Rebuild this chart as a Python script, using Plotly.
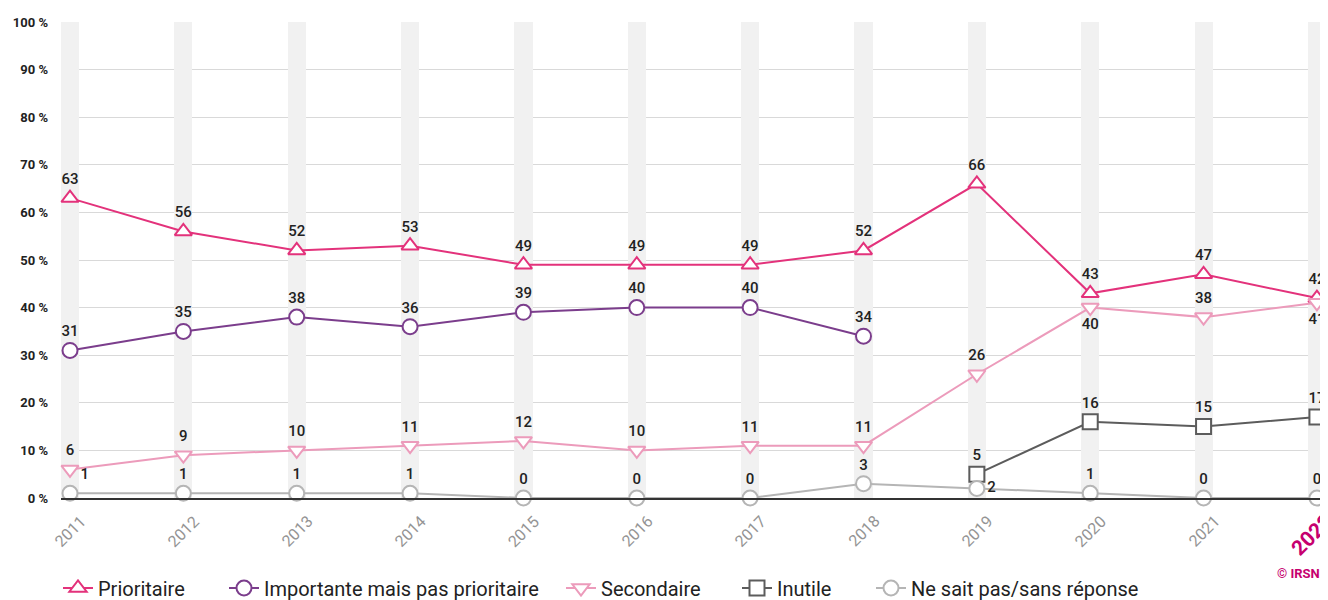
import plotly.graph_objects as go

years = [2011, 2012, 2013, 2014, 2015, 2016, 2017, 2018, 2019, 2020, 2021, 2022]
tick_labels = [str(y) for y in years]
band_height = [100] * len(years)

prioritaire = [63, 56, 52, 53, 49, 49, 49, 52, 66, 43, 47, 42]
importante = [31, 35, 38, 36, 39, 40, 40, 34, None, None, None, None]
secondaire = [6, 9, 10, 11, 12, 10, 11, 11, 26, 40, 38, 41]
inutile = [None, None, None, None, None, None, None, None, 5, 16, 15, 17]
nsp = [1, 1, 1, 1, 0, 0, 0, 3, 2, 1, 0, 0]

series_names = ["Prioritaire", "Importante mais pas prioritaire", "Secondaire",
                "Inutile", "Ne sait pas/sans réponse"]

# the page body has an 8px default margin: build the figure 8px smaller and
# express target positions in window pixels
OFF = 8
W, H = 1328 - OFF, 600 - OFF
PLOT_L, PLOT_R, PLOT_T, PLOT_B = 61, 1326, 22, 498   # window pixels
ML, MT = PLOT_L - OFF, PLOT_T - OFF
MR = W - (PLOT_R - OFF)
MB = H - (PLOT_B - OFF)
PW, PH = PLOT_R - PLOT_L, PLOT_B - PLOT_T


def px_x(p):
    return (p - PLOT_L) / PW


def px_y(p):
    return (PLOT_B - p) / PH


fig = go.Figure()

# grey vertical bands behind each year
fig.add_trace(go.Bar(x=years, y=band_height, width=0.16, marker=dict(color="#f1f1f1", line=dict(width=0)),
                     showlegend=False, hoverinfo="skip"))

label_font = dict(family="Roboto", size=15, color="#222222", weight=500)


def add_series(name, values, color, symbol, legend, positions, width=2):
    fig.add_trace(go.Scatter(
        x=years, y=values, name=name, mode="lines+markers+text",
        line=dict(color=color, width=width),
        marker=dict(symbol=symbol, size=15, color="white", line=dict(color=color, width=2)),
        text=[("" if v is None else str(v)) for v in values],
        textposition=positions, textfont=label_font,
        cliponaxis=False, legend=legend, connectgaps=False,
    ))


n = len(years)
add_series(series_names[0], prioritaire, "#e3327b", "triangle-up", "legend", ["top center"] * n)
add_series(series_names[1], importante, "#7b3d8c", "circle", "legend2", ["top center"] * n)
sec_pos = ["top center"] * n
sec_pos[9] = "bottom center"
sec_pos[11] = "bottom center"
add_series(series_names[2], secondaire, "#ec9bbb", "triangle-down", "legend3", sec_pos)
add_series(series_names[3], inutile, "#5c5c5c", "square", "legend4", ["top center"] * n)
nsp_pos = ["top center"] * n
nsp_pos[0] = "top right"
nsp_pos[8] = "middle right"
add_series(series_names[4], nsp, "#b5b5b5", "circle", "legend5", nsp_pos)

annotations = []
for yr, lab in zip(years, tick_labels):
    last = yr == years[-1]
    annotations.append(dict(
        x=yr, xref="x", y=px_y(535 if last else 531), yref="paper",
        xshift=-5 if last else 0,
        text=f"<b>{lab}</b>" if last else lab, showarrow=False, textangle=-45,
        xanchor="center", yanchor="middle",
        font=dict(family="Roboto", size=21 if last else 16, color="#c6006f" if last else "#949494"),
    ))
annotations.append(dict(
    x=px_x(1322), xref="paper", y=px_y(573), yref="paper", text="<b>© IRSN</b>",
    showarrow=False, xanchor="right", yanchor="middle",
    font=dict(family="Roboto", size=13, color="#c6006f"),
))

legend_symbol_x = [77, 243, 580, 756, 890]
legend_keys = ["legend", "legend2", "legend3", "legend4", "legend5"]
legend_layout = {}
for key, sx in zip(legend_keys, legend_symbol_x):
    legend_layout[key] = dict(
        orientation="h", x=px_x(sx - 19), xanchor="left", y=px_y(588), yanchor="middle",
        font=dict(family="Roboto", size=20, color="#222222"), bgcolor="rgba(0,0,0,0)",
        borderwidth=0, itemclick=False,
    )

fig.update_layout(
    width=W, height=H,
    margin=dict(l=ML, r=MR, t=MT, b=MB, autoexpand=False),
    paper_bgcolor="white", plot_bgcolor="white",
    font=dict(family="Roboto"),
    bargap=0,
    xaxis=dict(range=[years[0] - 0.0794, years[0] + 11.08], showgrid=False, showticklabels=False,
               zeroline=False, showline=True, linecolor="#333333", linewidth=1.5, ticks="",
               fixedrange=True, automargin=False),
    yaxis=dict(range=[0, 100], dtick=10, ticksuffix=" %", showgrid=True, gridcolor="#d9d9d9",
               gridwidth=1, zeroline=False, ticklabelstandoff=12, automargin=False,
               tickfont=dict(family="Roboto", size=13, color="#222222", weight="bold"),
               fixedrange=True),
    annotations=annotations,
    showlegend=True,
    **legend_layout,
)

fig.write_html("out.html")
